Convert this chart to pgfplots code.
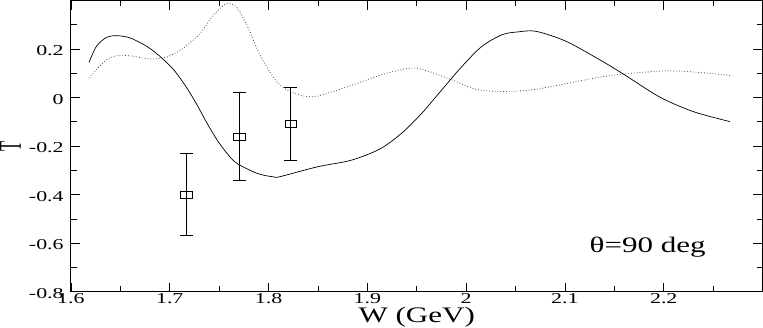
\documentclass[border=0pt]{standalone}
\usepackage{fontspec}
\setmainfont{Liberation Serif}
\newfontfamily\wide{Liberation Serif}[FakeStretch=1.45]
\newfontfamily\widel{Liberation Serif}[FakeStretch=1.4]
\usepackage{pgfplots}
\pgfplotsset{compat=1.18}
\begin{document}
\begin{tikzpicture}
\begin{axis}[
  scale only axis, width=686bp, height=289bp,
  xmin=1.6, xmax=2.3, ymin=-0.8, ymax=0.4,
  xtick={1.6,1.7,1.8,1.9,2.0,2.1,2.2}, xticklabels={1.6,1.7,1.8,1.9,2,2.1,2.2},
  ytick={-0.8,-0.6,-0.4,-0.2,0,0.2}, yticklabels={-0.8,-0.6,-0.4,-0.2,0,0.2},
  minor xtick={1.65,1.75,1.85,1.95,2.05,2.15,2.25},
  minor ytick={-0.7,-0.5,-0.3,-0.1,0.1,0.3},
  tick align=inside, major tick length=9bp, minor tick length=6bp,
  tick style={black, line width=0.8pt},
  axis line style={line width=0.9pt},
  xticklabel style={font={\wide\fontsize{15bp}{17bp}\selectfont}, anchor=base, inner sep=0pt, yshift=-11.5bp},
  yticklabel style={font={\wide\fontsize{15bp}{17bp}\selectfont}, anchor=east, inner sep=0pt, xshift=-7bp, yshift=-1.5bp},
  xlabel={W (GeV)}, ylabel={\scalebox{0.74}[1.44]{T}},
  xlabel style={font={\widel\fontsize{22bp}{24bp}\selectfont}, at={(axis description cs:0.5,0)}, anchor=center, inner sep=0pt, yshift=-25.5bp},
  ylabel style={font={\fontsize{22bp}{24bp}\selectfont}, at={(axis description cs:0,0.5)}, anchor=center, inner sep=0pt, yshift=60bp},
]
\addplot[black, line width=0.7pt, smooth] coordinates {
(1.6183,0.145) (1.6258,0.211) (1.636,0.248) (1.646,0.255) (1.6597,0.246) (1.6767,0.211)
(1.690,0.170) (1.7039,0.115) (1.7174,0.039) (1.7276,-0.030) (1.7378,-0.106) (1.748,-0.175)
(1.758,-0.230) (1.768,-0.271) (1.789,-0.313) (1.8057,-0.327) (1.8124,-0.325)
(1.8497,-0.285) (1.8837,-0.258) (1.9126,-0.212) (1.9347,-0.147) (1.955,-0.065)
(1.9754,0.032) (1.9957,0.128) (2.016,0.211) (2.0365,0.259) (2.0517,0.270) (2.0705,0.273)
(2.101,0.232) (2.135,0.156) (2.1587,0.098) (2.196,0.002) (2.23,-0.058) (2.267,-0.099)
};
\addplot[black!70, line width=0.8pt, dotted, smooth] coordinates {
(1.6183,0.080) (1.636,0.156) (1.6495,0.174) (1.663,0.170) (1.680,0.159) (1.697,0.167)
(1.714,0.204) (1.731,0.266) (1.7446,0.342) (1.758,0.388) (1.768,0.370) (1.7786,0.294)
(1.792,0.170) (1.8094,0.060) (1.826,0.018) (1.8464,0.004) (1.8803,0.045) (1.9143,0.094)
(1.9446,0.122) (1.9618,0.108) (1.9855,0.073) (2.009,0.035) (2.0365,0.025) (2.067,0.032)
(2.101,0.057) (2.135,0.084) (2.162,0.098) (2.203,0.110) (2.237,0.103) (2.267,0.091)
};
\addplot[black, only marks, mark=square, mark size=3.5bp, mark options={line width=0.7pt, xscale=1.65},
  error bars/.cd, y dir=both, y explicit,
  error bar style={line width=1pt},
  error mark options={rotate=90, mark size=6.5bp, line width=1pt}]
coordinates {
(1.7167,-0.40) +- (0,0.17)
(1.7704,-0.16) +- (0,0.18)
(1.8226,-0.11) +- (0,0.15)
};
\node[font={\widel\fontsize{22bp}{24bp}\selectfont}, anchor=base, inner sep=0pt] at (axis cs:2.1838,-0.637) {θ=90 deg};
\end{axis}
\end{tikzpicture}
\end{document}
